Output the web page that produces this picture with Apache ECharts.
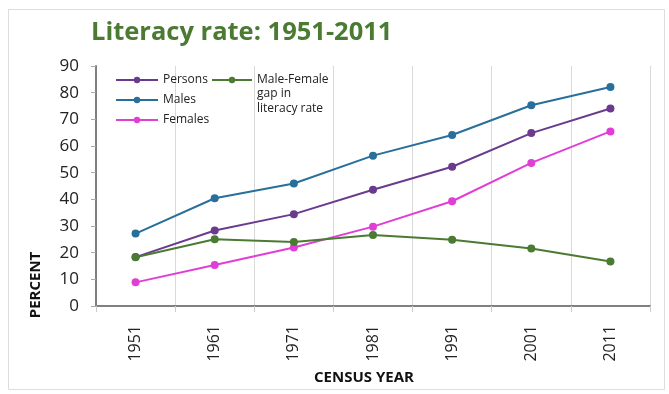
<!DOCTYPE html>
<html><head><meta charset="utf-8">
<script src="https://cdn.jsdelivr.net/npm/echarts@6/dist/echarts.min.js"></script>
<style>html,body{margin:0;padding:0;background:#fff}#c{width:669px;height:394px}</style>
</head><body><div id="c"></div>
<script>
const years = ['1951','1961','1971','1981','1991','2001','2011'];
const persons = [18.33, 28.3, 34.45, 43.57, 52.21, 64.83, 74.04];
const males = [27.16, 40.4, 45.96, 56.38, 64.13, 75.26, 82.14];
const females = [8.86, 15.35, 21.97, 29.76, 39.29, 53.67, 65.46];
const gap = [18.3, 25.05, 23.98, 26.62, 24.84, 21.59, 16.68];

const C = {p:'#6b3a8e', m:'#286f9b', f:'#e03fd6', g:'#4b7a33'};
const font = '"Open Sans", "Noto Sans", sans-serif';
function s(name, data, color){
  return {name, type:'line', data, symbol:'circle', symbolSize:8,
    lineStyle:{color, width:2}, itemStyle:{color}};
}
const chart = echarts.init(document.getElementById('c'));
chart.setOption({
  animation:false,
  backgroundColor:'#fff',
  title:{text:'Literacy rate: 1951-2011', left:86, top:15,
    textStyle:{color:'#4b7a33', fontSize:25.5, fontWeight:'bold', fontFamily:font}},
  grid:{left:96, right:19, top:66, bottom:88},
  legend:[
    {data:['Persons','Males','Females'], orient:'vertical', left:110, top:69, itemGap:8,
     itemWidth:42, itemHeight:8, textStyle:{fontSize:12, color:'#222', fontFamily:font}},
    {data:['Male-Female gap in literacy rate'], left:206, top:69, itemWidth:40, itemHeight:8,
     formatter:()=> 'Male-Female', textStyle:{fontSize:12, color:'#222', fontFamily:font}}
  ],
  xAxis:{type:'category', data:years, boundaryGap:true,
    axisLine:{lineStyle:{color:'#808080', width:2}},
    axisTick:{show:true, lineStyle:{color:'#ccc'}, length:6},
    splitLine:{show:true, lineStyle:{color:'#d9d9d9', width:1}},
    axisLabel:{rotate:90, fontSize:16, color:'#222', margin:19, fontFamily:font}},
  yAxis:{type:'value', min:0, max:90, interval:10,
    axisLine:{show:true, lineStyle:{color:'#808080', width:2}},
    axisTick:{show:true, lineStyle:{color:'#aaa'}, length:5},
    splitLine:{show:false},
    axisLabel:{fontSize:17, color:'#222', margin:17, fontFamily:font}},
  graphic:[
    {type:'text', left:257, top:86, style:{text:'gap in\nliteracy rate', fontSize:12, lineHeight:15, fill:'#222', fontFamily:font}},
    {type:'text', x:36, y:285, rotation:Math.PI/2, style:{text:'PERCENT', fontSize:15, fontWeight:'bold', fill:'#111', fontFamily:font, align:'center', verticalAlign:'middle'}},
    {type:'text', x:364, y:378, style:{text:'CENSUS YEAR', fontSize:15, fontWeight:'bold', fill:'#111', fontFamily:font, align:'center', verticalAlign:'middle'}},
    {type:'rect', shape:{x:8.5, y:9.5, width:656, height:380}, style:{fill:'none', stroke:'#ddd', lineWidth:1}, silent:true}
  ],
  series:[
    s('Persons', persons, C.p),
    s('Males', males, C.m),
    s('Females', females, C.f),
    s('Male-Female gap in literacy rate', gap, C.g)
  ]
});
</script></body></html>
